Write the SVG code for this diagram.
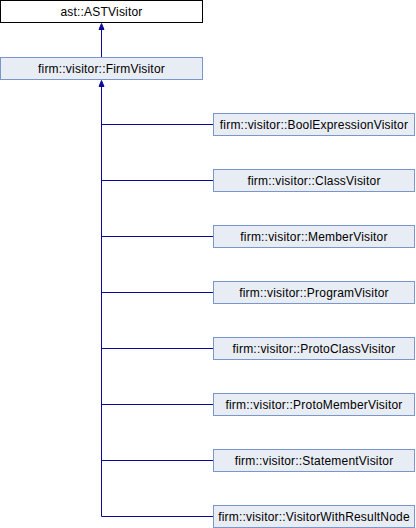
<svg xmlns="http://www.w3.org/2000/svg" width="416" height="528" viewBox="0 0 416 528">
<style>
.n rect{fill:#E8ECF4;stroke:#7B96C8;stroke-width:1}
.top rect{fill:#ffffff;stroke:#000000;stroke-width:1}
text{font-family:"Liberation Sans",Arial,sans-serif;font-size:12px;fill:#000;text-anchor:middle;letter-spacing:0.2px}
.e{stroke:#0B0B94;stroke-width:1;fill:none}
.ah{fill:#0B0B94;stroke:#0B0B94;stroke-width:1}
</style>
<rect width="416" height="528" fill="#ffffff"/>
<g id="edges">
<line class="e" x1="101.5" y1="29" x2="101.5" y2="57"/>
<polygon class="ah" points="101.5,23.5 99,29.5 104,29.5"/>
<line class="e" x1="101.5" y1="86" x2="101.5" y2="516.5"/>
<polygon class="ah" points="101.5,80.5 99,86.5 104,86.5"/>
<line class="e" x1="101.5" y1="124.5" x2="213" y2="124.5"/>
<line class="e" x1="101.5" y1="180.5" x2="213" y2="180.5"/>
<line class="e" x1="101.5" y1="236.5" x2="213" y2="236.5"/>
<line class="e" x1="101.5" y1="292.5" x2="213" y2="292.5"/>
<line class="e" x1="101.5" y1="348.5" x2="213" y2="348.5"/>
<line class="e" x1="101.5" y1="404.5" x2="213" y2="404.5"/>
<line class="e" x1="101.5" y1="460.5" x2="213" y2="460.5"/>
<line class="e" x1="101.5" y1="516.5" x2="213" y2="516.5"/>
</g>
<g id="ASTVisitor" class="top"><rect x="0.5" y="0.5" width="202" height="22"/><text x="101.5" y="16">ast::ASTVisitor</text></g>
<g id="FirmVisitor" class="n"><rect x="0.5" y="57.5" width="202" height="22"/><text x="101.5" y="73">firm::visitor::FirmVisitor</text></g>
<g id="BoolExpressionVisitor" class="n"><rect x="213.5" y="113.5" width="201" height="22"/><text x="314" y="129">firm::visitor::BoolExpressionVisitor</text></g>
<g id="ClassVisitor" class="n"><rect x="213.5" y="169.5" width="201" height="22"/><text x="314" y="185">firm::visitor::ClassVisitor</text></g>
<g id="MemberVisitor" class="n"><rect x="213.5" y="225.5" width="201" height="22"/><text x="314" y="241">firm::visitor::MemberVisitor</text></g>
<g id="ProgramVisitor" class="n"><rect x="213.5" y="281.5" width="201" height="22"/><text x="314" y="297">firm::visitor::ProgramVisitor</text></g>
<g id="ProtoClassVisitor" class="n"><rect x="213.5" y="337.5" width="201" height="22"/><text x="314" y="353">firm::visitor::ProtoClassVisitor</text></g>
<g id="ProtoMemberVisitor" class="n"><rect x="213.5" y="393.5" width="201" height="22"/><text x="314" y="409">firm::visitor::ProtoMemberVisitor</text></g>
<g id="StatementVisitor" class="n"><rect x="213.5" y="449.5" width="201" height="22"/><text x="314" y="465">firm::visitor::StatementVisitor</text></g>
<g id="VisitorWithResultNode" class="n"><rect x="213.5" y="505.5" width="201" height="22"/><text x="314" y="521">firm::visitor::VisitorWithResultNode</text></g>
</svg>
